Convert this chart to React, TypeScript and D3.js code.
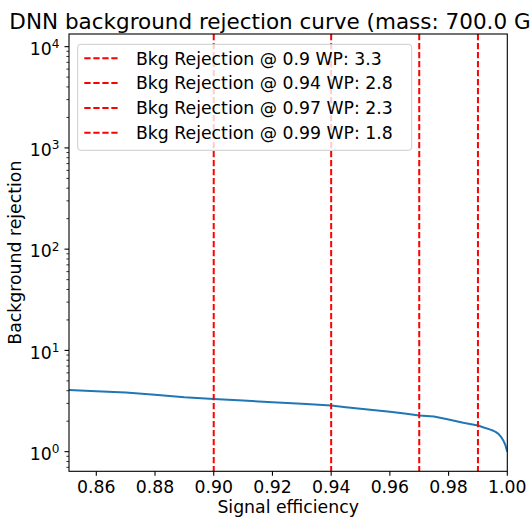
import React from "react";
import * as d3 from "d3";

// Data
const efficiency = [0.8507, 0.86, 0.87, 0.88, 0.89, 0.9, 0.91, 0.92, 0.93, 0.94, 0.945, 0.95, 0.955, 0.96, 0.965, 0.97, 0.975, 0.98, 0.985, 0.99, 0.992, 0.994, 0.995, 0.996, 0.997, 0.998, 0.9987, 0.9993, 1.0];
const rejection = [4.07, 3.95, 3.83, 3.65, 3.45, 3.31, 3.2, 3.08, 2.97, 2.86, 2.75, 2.65, 2.57, 2.48, 2.38, 2.27, 2.22, 2.08, 1.93, 1.81, 1.73, 1.66, 1.62, 1.57, 1.5, 1.38, 1.28, 1.17, 1.0];
const wpEff = [0.9, 0.94, 0.97, 0.99];
const wpRej = ["3.3", "2.8", "2.3", "1.8"];
const wpLabels = ["0.9", "0.94", "0.97", "0.99"];
const xTicks = [0.86, 0.88, 0.9, 0.92, 0.94, 0.96, 0.98, 1.0];
const yDecades = [0, 1, 2, 3, 4];
const titleText = "DNN background rejection curve (mass: 700.0 GeV)";
const xLabel = "Signal efficiency";
const yLabel = "Background rejection";

const W = 530, H = 518;
const left = 69, right = 507.3, top = 34, bottom = 471.3;
const FONT = "DejaVu Sans, sans-serif";
const FS = 17.3;

export default function App() {
  const x = d3.scaleLinear().domain([0.8507, 1.0]).range([left, right]);
  const y = d3.scaleLog().domain([Math.pow(10, -0.194), Math.pow(10, 4.125)]).range([bottom, top]);
  const pts = efficiency.map((e, i) => [e, rejection[i]] as [number, number]);
  const line = d3.line<[number, number]>().x(d => x(d[0])).y(d => y(d[1]));

  const minor: number[] = [];
  for (let dec = -1; dec <= 4; dec++) {
    for (let m = 2; m <= 9; m++) {
      const v = m * Math.pow(10, dec);
      const py = y(v);
      if (py >= top && py <= bottom) minor.push(v);
    }
  }

  return (
    <svg width={W} height={H} style={{ position: "absolute", left: 0, top: 0, background: "#fff" }} fontFamily={FONT}>
      <defs>
        <clipPath id="plot">
          <rect x={left} y={top} width={right - left} height={bottom - top} />
        </clipPath>
      </defs>
      <rect x={0} y={0} width={W} height={H} fill="#fff" />
      <text x={(left + right) / 2} y={28.9} fontSize={21.5} textAnchor="middle" fill="#000">{titleText}</text>

      <g clipPath="url(#plot)">
        <path d={line(pts) || ""} fill="none" stroke="#1f77b4" strokeWidth={2} strokeLinejoin="round" />
        {wpEff.map((e, i) => (
          <line key={i} x1={x(e)} x2={x(e)} y1={top} y2={bottom} stroke="#ff0000" strokeWidth={2} strokeDasharray="6.3,2.7" />
        ))}
      </g>

      {/* spines */}
      <rect x={left} y={top} width={right - left} height={bottom - top} fill="none" stroke="#000" strokeWidth={1.1} />

      {/* x ticks */}
      {xTicks.map((t, i) => (
        <g key={i}>
          <line x1={x(t)} x2={x(t)} y1={bottom} y2={bottom + 4.5} stroke="#000" strokeWidth={1.1} />
          <text x={x(t)} y={492.5} fontSize={FS} textAnchor="middle" fill="#000">{t.toFixed(2)}</text>
        </g>
      ))}
      <text x={(left + right) / 2} y={512.7} fontSize={FS} textAnchor="middle" fill="#000">{xLabel}</text>

      {/* y ticks */}
      {yDecades.map((d, i) => (
        <g key={i}>
          <line x1={left} x2={left - 4.5} y1={y(Math.pow(10, d))} y2={y(Math.pow(10, d))} stroke="#000" strokeWidth={1.1} />
          <text x={59.5} y={y(Math.pow(10, d)) + 8.3} fontSize={FS} textAnchor="end" fill="#000">
            <tspan>10</tspan>
            <tspan dy={-6.9} fontSize={12.1}>{d}</tspan>
          </text>
        </g>
      ))}
      {minor.map((v, i) => (
        <line key={i} x1={left} x2={left - 2.6} y1={y(v)} y2={y(v)} stroke="#000" strokeWidth={0.8} />
      ))}
      <text transform={`translate(20.5,${(top + bottom) / 2}) rotate(-90)`} fontSize={FS} textAnchor="middle" fill="#000">{yLabel}</text>

      {/* legend */}
      <rect x={77.7} y={44.3} width={334} height={106} rx={3} fill="#fff" fillOpacity={0.8} stroke="#cccccc" strokeWidth={1} />
      {wpEff.map((e, i) => {
        const cy = 58.3 + i * 24.8;
        return (
          <g key={i}>
            <line x1={84.3} x2={118.3} y1={cy} y2={cy} stroke="#ff0000" strokeWidth={2} strokeDasharray="6.3,2.7" />
            <text x={136} y={cy + 6.2} fontSize={FS} fill="#000">{`Bkg Rejection @ ${wpLabels[i]} WP: ${wpRej[i]}`}</text>
          </g>
        );
      })}
    </svg>
  );
}
